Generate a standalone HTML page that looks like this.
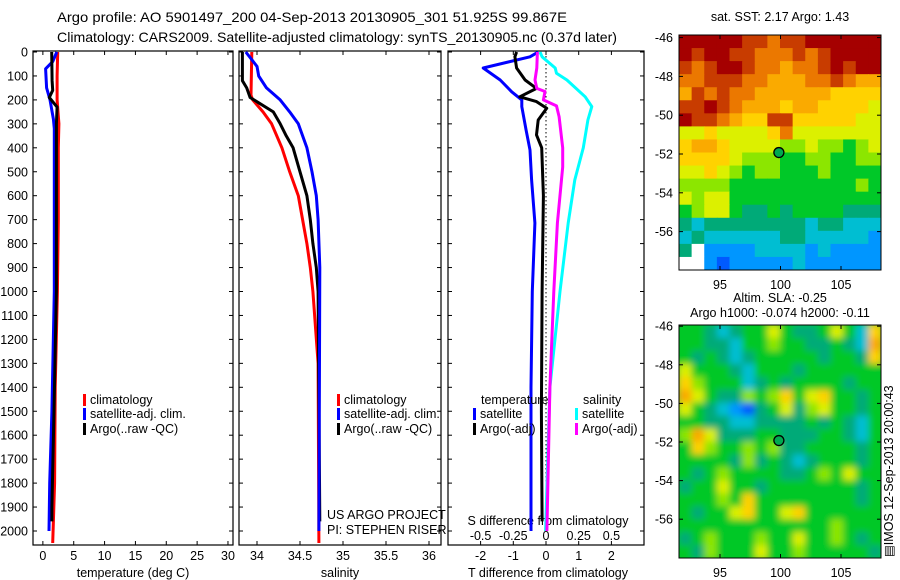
<!DOCTYPE html>
<html><head><meta charset="utf-8">
<style>
html,body{margin:0;padding:0;background:#fff;}
svg{display:block;font-family:"Liberation Sans",sans-serif;}
</style></head>
<body>
<svg id="fig" width="900" height="580" viewBox="0 0 900 580" xmlns="http://www.w3.org/2000/svg">
<defs>
<clipPath id="clipTop"><rect x="679" y="35" width="202" height="235"/></clipPath>
<clipPath id="clipBot"><rect x="679" y="325" width="202" height="233"/></clipPath>
<filter id="blur" x="-5%" y="-5%" width="110%" height="110%"><feGaussianBlur stdDeviation="3.5"/></filter>
</defs>
<text x="57" y="22" font-size="14" textLength="510" lengthAdjust="spacingAndGlyphs">Argo profile: AO 5901497_200 04-Sep-2013 20130905_301 51.925S 99.867E</text>
<text x="57" y="42" font-size="14" textLength="560" lengthAdjust="spacingAndGlyphs">Climatology: CARS2009. Satellite-adjusted climatology: synTS_20130905.nc (0.37d later)</text>
<g id="g"></g>
</svg>
<script>
// ---------- profile data ----------
const depthClimT = [0,100,200,300,400,700,1000,1400,1800,2050];
const climT      = [2.4,2.3,2.3,2.6,2.5,2.5,2.35,2.0,1.9,1.6];
const depthSatT  = [0,40,70,150,200,280,320,1000,1500,1800,2000];
const satT       = [2.25,1.6,0.45,0.6,1.15,1.7,1.85,1.85,1.46,1.1,0.99];
const depthArgoT = [0,120,160,190,230,300,1000,1500,1900,1960];
const argoT      = [1.43,1.5,1.6,1.04,2.3,2.2,2.2,1.8,1.46,1.46];

const depthClimS = [0,180,200,250,300,400,500,600,700,800,900,1000,1300,2050];
const climS      = [33.94,33.93,33.95,34.07,34.17,34.29,34.38,34.48,34.53,34.58,34.62,34.65,34.71,34.72];
const depthSatS  = [0,60,100,150,200,250,300,400,500,600,700,900,2000];
const satS       = [33.87,34.0,34.02,34.11,34.27,34.38,34.48,34.58,34.64,34.69,34.71,34.73,34.72];
const depthArgoS = [0,120,150,190,210,250,300,350,400,500,600,700,800,900,1000,1960];
const argoS      = [33.83,33.83,33.88,33.92,34.01,34.19,34.27,34.34,34.42,34.5,34.58,34.62,34.65,34.69,34.71,34.73];

const depthDiffSatT = [0,20,67,117,166,200,228,326,409,534,714,1000,1400,2000];
const diffSatT      = [-0.24,-0.49,-1.92,-1.4,-1.05,-0.74,-0.74,-0.61,-0.49,-0.44,-0.34,-0.42,-0.46,-0.46];
const depthDiffArgoT = [0,20,67,117,152,187,207,235,284,346,400,600,1000,1500,1960];
const diffArgoT      = [-0.9,-0.95,-0.9,-0.64,-0.29,-0.8,-0.29,0.02,-0.24,-0.29,-0.13,-0.08,-0.12,-0.14,-0.12];
const depthDiffSatS = [0,20,67,89,117,187,228,284,400,534,714,1000,1400,2000];
const diffSatS      = [-0.046,-0.03,0.07,0.08,0.16,0.30,0.35,0.32,0.285,0.22,0.17,0.107,0.03,-0.003];
const depthDiffArgoS = [0,67,117,152,165,200,225,270,400,480,714,1000,1400,2000];
const diffArgoS      = [-0.066,-0.07,-0.084,-0.07,-0.008,-0.02,0.08,0.10,0.128,0.128,0.087,0.06,0.03,0.007];

const tTicks = [0,5,10,15,20,25,30];
const sTicks = [34,34.5,35,35.5,36];
const sTickLabels = ['34','34.5','35','35.5','36'];
const dtTicks = [-2,-1,0,1,2];
const dsTicks = [-0.5,-0.25,0,0.25,0.5];
const dsTickLabels = ['-0.5','-0.25','0','0.25','0.5'];
const depthTicks = [0,100,200,300,400,500,600,700,800,900,1000,1100,1200,1300,1400,1500,1600,1700,1800,1900,2000];

// ---------- map data (colour level 0..12, -1 = no data) ----------
const mapLon = [92,94,96,98,100,102,104,106,108];
const mapLat = [-46,-48,-50,-52,-54,-56];
const sstLevel = [
[12,12,12,12,12,11,11,10,11,11,12,12,12,12,12,12],
[12,11,12,12,11,11,10,10,10,11,10,11,12,12,12,12],
[11,10,11,12,12,11,10,10,9,10,10,11,12,11,12,12],
[10,10,11,11,11,10,10,9,9,9,10,10,11,10,9,9],
[9,11,10,11,10,10,9,9,9,9,9,9,8,8,8,8],
[11,11,12,11,10,9,9,9,8,9,9,8,8,8,8,7],
[12,11,11,10,9,8,8,11,11,8,8,8,8,8,7,7],
[7,7,8,7,7,7,7,8,10,7,7,7,7,7,7,7],
[8,9,9,8,7,7,7,7,6,6,7,6,6,5,6,7],
[8,8,8,8,7,6,6,6,5,5,6,6,5,5,6,6],
[7,7,8,7,6,5,6,6,5,5,5,6,5,5,5,5],
[6,6,6,6,5,5,5,5,5,5,5,5,5,5,6,5],
[7,6,7,7,5,5,5,5,5,5,5,5,5,5,5,5],
[5,6,7,7,5,4,4,5,4,5,5,5,5,4,4,4],
[4,3,4,4,4,4,4,4,4,4,3,4,4,3,3,3],
[3,4,3,3,3,3,3,3,4,4,3,3,3,3,3,2],
[4,-1,2,2,2,2,3,3,3,3,2,3,2,2,2,2],
[-1,-1,2,1,2,2,2,2,2,3,2,2,2,2,2,2]];
const slaLevel = [
[5,5,4,3,4,5,5,7,5,4,4,5,7,5,3,8],
[5,5,4,4,3,5,5,6,5,5,4,4,5,4,3,9],
[5,4,5,4,3,4,5,5,5,5,5,4,5,5,4,8],
[7,5,5,5,4,3,5,5,5,4,5,5,5,5,5,5],
[8,6,5,5,5,3,4,5,4,5,5,5,5,4,5,5],
[9,7,5,4,4,6,5,6,8,5,7,8,5,5,4,5],
[7,5,4,3,2,1,4,5,7,4,6,7,5,5,4,5],
[5,5,4,4,3,3,4,4,4,4,5,4,5,4,3,5],
[6,9,7,4,4,4,5,5,4,4,4,5,5,4,3,5],
[5,8,6,5,5,6,5,6,4,4,5,5,5,5,4,5],
[5,5,5,5,4,6,4,5,4,3,4,5,5,5,4,5],
[5,4,5,6,5,5,5,5,4,4,5,6,5,7,5,5],
[4,5,5,7,5,5,4,5,5,5,5,5,5,5,4,5],
[5,5,5,6,5,8,5,5,5,5,5,5,5,5,4,5],
[5,4,5,5,7,8,5,5,7,8,5,5,5,5,5,5],
[5,5,5,5,5,5,5,5,5,5,5,5,6,5,5,5],
[4,5,6,5,5,5,6,5,5,7,5,5,6,5,4,5],
[5,4,6,5,5,5,7,5,5,6,5,5,5,5,5,4]];
const palette = ['rgb(0,40,200)','rgb(0,90,255)','rgb(0,150,255)','rgb(0,190,210)','rgb(0,170,120)','rgb(0,200,40)','rgb(140,230,0)','rgb(220,240,0)','rgb(255,210,0)','rgb(250,170,0)','rgb(235,120,0)','rgb(200,60,0)','rgb(165,0,0)'];
const floatLon = 99.867, floatLat = -51.925;

// ---------- scales ----------
const NS='http://www.w3.org/2000/svg';
const G=document.getElementById('g');
const TOP=51, BOT=545;
const yD = d => 52 + d*0.2395;
const xT = t => 33 + (t+1.6)*6.17;
const xS = s => 257 + (s-34)*86;
const xdT = t => 546 + t*32.7;
const xdS = s => 546 + s*130.8;
const lonX = lo => 720 + (lo-95)*12.1;
const latYTop = la => 154 + (-52-la)*19.4;
const latYBot = la => 442 + (-52-la)*19.3;

function mk(tag, attrs, parent){
  const e=document.createElementNS(NS,tag);
  for(const k in attrs) e.setAttribute(k,attrs[k]);
  (parent||G).appendChild(e); return e;
}
function txt(x,y,s,size,anchor,parent){
  const e=mk('text',{x:x,y:y,'font-size':size,'text-anchor':anchor||'start'},parent);
  e.textContent=s; return e;
}

// panels
const panels=[[33,233,'temperature-panel'],[239,441,'salinity-panel'],[448,644,'difference-panel']];
panels.forEach(p=>{
  const r=mk('rect',{x:p[0],y:TOP,width:p[1]-p[0],height:BOT-TOP,fill:'none',stroke:'#000','stroke-width':1.2});
  
  
  depthTicks.forEach(d=>{
    mk('line',{x1:p[0],x2:p[0]+4,y1:yD(d),y2:yD(d),stroke:'#000'});
    mk('line',{x1:p[1]-4,x2:p[1],y1:yD(d),y2:yD(d),stroke:'#000'});
  });
});
depthTicks.forEach(d=>{
  const t=txt(28,yD(d)+4.5,String(d),12.5,'end');
  
  
});
function xticks(vals,labels,fx,y){
  vals.forEach((v,i)=>{
    const x=fx(v);
    mk('line',{x1:x,x2:x,y1:TOP,y2:TOP+4,stroke:'#000'});
    mk('line',{x1:x,x2:x,y1:BOT-4,y2:BOT,stroke:'#000'});
    const t=txt(x,y,labels[i],12.5,'middle');
    
    
  });
}
xticks(tTicks,tTicks.map(String),xT,560);
xticks(sTicks,sTickLabels,xS,560);
xticks(dtTicks,dtTicks.map(String),xdT,560);
dsTicks.forEach((v,i)=>{
  const t=txt(xdS(v),540,dsTickLabels[i],12.5,'middle');
  
  
});
[['temperature (deg C)',133,'temperature-axis-title'],['salinity',340,'salinity-axis-title'],['T difference from climatology',548,'t-diff-axis-title']].forEach(a=>{
  const t=txt(a[1],577,a[0],12.5,'middle');
  
  
});
const sdt=txt(548,525,'S difference from climatology',12.5,'middle');



// zero dotted line
const zl=mk('line',{x1:xdT(0),x2:xdT(0),y1:yD(0),y2:yD(2000),stroke:'#000','stroke-dasharray':'1.5,2.5'});



function profile(depths,vals,fx,color,name){
  const pts=depths.map((d,i)=>fx(vals[i]).toFixed(1)+','+yD(d).toFixed(1)).join(' ');
  const pl=mk('polyline',{points:pts,fill:'none',stroke:color,'stroke-width':3,'stroke-linejoin':'round'});
  
  
}
profile(depthClimT,climT,xT,'#ff0000','temp-climatology-line');
profile(depthSatT,satT,xT,'#0000ff','temp-satellite-line');
profile(depthArgoT,argoT,xT,'#000000','temp-argo-line');
profile(depthClimS,climS,xS,'#ff0000','sal-climatology-line');
profile(depthArgoS,argoS,xS,'#000000','sal-argo-line');
profile(depthSatS,satS,xS,'#0000ff','sal-satellite-line');
profile(depthDiffSatT,diffSatT,xdT,'#0000ff','t-diff-satellite-line');
profile(depthDiffArgoT,diffArgoT,xdT,'#000000','t-diff-argo-line');
profile(depthDiffSatS,diffSatS,xdS,'#00ffff','s-diff-satellite-line');
profile(depthDiffArgoS,diffArgoS,xdS,'#ff00ff','s-diff-argo-line');

// legends
function legend(x,y,color,label){
  const r=mk('rect',{x:x,y:y-10,width:3,height:12,fill:color});
  
  
  const t=txt(x+7,y,label,12.5);
  
  
}
[[83,'#ff0000','climatology',404],[83,'#0000ff','satellite-adj. clim.',418],[83,'#000000','Argo(..raw -QC)',433]].forEach(a=>legend(a[0],a[3],a[1],a[2]));
[[337,'#ff0000','climatology',404],[337,'#0000ff','satellite-adj. clim.',418],[337,'#000000','Argo(..raw -QC)',433]].forEach(a=>legend(a[0],a[3],a[1],a[2]));
legend(473,418,'#0000ff','satellite');
legend(473,433,'#000000','Argo(-adj)');
legend(575,418,'#00ffff','satellite');
legend(575,433,'#ff00ff','Argo(-adj)');
[['temperature',481,404],['salinity',583,404],['US ARGO PROJECT',327,519],['PI: STEPHEN RISER',327,534]].forEach(a=>{
  const t=txt(a[1],a[2],a[0],12.5);
  
  
});

// maps
function heatmap(levels,x0,y0,w,h,clip,blur,name){
  const grp=mk('g',{'clip-path':'url(#'+clip+')'});
  const inner=mk('g',blur?{filter:'url(#blur)'}:{},grp);
  const rows=levels.length, cols=levels[0].length;
  const cw=w/cols, ch=h/rows;
  levels.forEach((row,r)=>row.forEach((v,c)=>{
    const cell=mk('rect',{x:(x0+c*cw).toFixed(2),y:(y0+r*ch).toFixed(2),width:(cw+0.6).toFixed(2),height:(ch+0.6).toFixed(2),fill:v<0?'#ffffff':palette[v]},inner);
    
    
  }));
  if(blur){ // pad edges for blur
    inner.insertBefore(mk('rect',{x:x0-10,y:y0-10,width:w+20,height:h+20,fill:palette[5]},inner),inner.firstChild);
  }
  const fr=mk('rect',{x:x0,y:y0,width:w,height:h,fill:'none',stroke:'#000'});
  
  
}
heatmap(sstLevel,679,35,202,235,'clipTop',false,'sst-map');
heatmap(slaLevel,679,325,202,233,'clipBot',true,'sla-map');

function mapAxes(latY,y0,y1){
  mapLat.forEach(la=>{
    const y=latY(la);
    if(y<y0-1||y>y1+1) return;
    mk('line',{x1:679,x2:683,y1:y,y2:y,stroke:'#000'});
    mk('line',{x1:877,x2:881,y1:y,y2:y,stroke:'#000'});
    const t=txt(673,y+4.5,String(la),12.5,'end');
    
    
  });
  [95,100,105].forEach(lo=>{
    const x=lonX(lo);
    mk('line',{x1:x,x2:x,y1:y0,y2:y0+4,stroke:'#000'});
    mk('line',{x1:x,x2:x,y1:y1-4,y2:y1,stroke:'#000'});
    const t=txt(x,y1+19,String(lo),12.5,'middle');
    
    
  });
}
mapAxes(latYTop,35,270);
mapAxes(latYBot,325,558);
const c1=mk('circle',{cx:lonX(floatLon),cy:latYTop(floatLat),r:5,fill:'rgb(0,170,80)',stroke:'#000','stroke-width':1.3});


const c2=mk('circle',{cx:lonX(floatLon),cy:latYBot(floatLat),r:5,fill:'rgb(0,170,80)',stroke:'#000','stroke-width':1.3});



[['sat. SST: 2.17 Argo: 1.43',780,21,'sst-map-title'],['Altim. SLA: -0.25',780,302,'sla-map-title'],['Argo h1000: -0.074 h2000: -0.11',780,317,'sla-map-subtitle']].forEach(a=>{
  const t=txt(a[1],a[2],a[0],12.5,'middle');
  
  
});
const rt=txt(0,0,'\u25A4IMOS 12-Sep-2013 20:00:43',12.5,'start');
rt.setAttribute('transform','translate(893,557) rotate(-90)');


</script>
</body></html>
